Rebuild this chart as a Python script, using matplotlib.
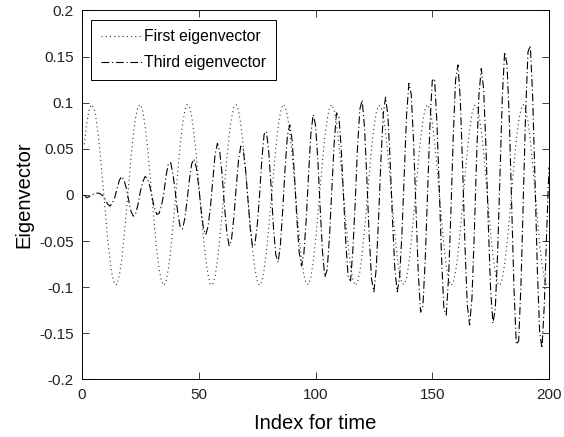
import numpy as np
import matplotlib
matplotlib.use('Agg')
from matplotlib import pyplot as plt
from matplotlib.ticker import FixedLocator, FuncFormatter

plt.rcParams['font.family'] = ['Liberation Sans', 'DejaVu Sans']

# indice de tiempo (1..200)
indice = np.arange(1, 201)

# primer vector propio
primer = [
    0.055, 0.077, 0.092, 0.098, 0.095, 0.083, 0.064, 0.039, 0.010, -0.020,
    -0.048, -0.071, -0.088, -0.097, -0.097, -0.087, -0.070, -0.046, -0.018, 0.012,
    0.041, 0.066, 0.085, 0.096, 0.098, 0.091, 0.075, 0.053, 0.026, -0.004,
    -0.033, -0.060, -0.080, -0.093, -0.098, -0.093, -0.080, -0.059, -0.033, -0.004,
    0.026, 0.053, 0.075, 0.091, 0.098, 0.096, 0.085, 0.066, 0.041, 0.012,
    -0.018, -0.046, -0.070, -0.087, -0.097, -0.097, -0.088, -0.071, -0.048, -0.020,
    0.010, 0.039, 0.064, 0.083, 0.095, 0.098, 0.092, 0.077, 0.055, 0.028,
    -0.002, -0.031, -0.058, -0.079, -0.093, -0.098, -0.094, -0.081, -0.061, -0.035,
    -0.006, 0.024, 0.051, 0.074, 0.090, 0.098, 0.096, 0.086, 0.067, 0.043,
    0.014, -0.016, -0.044, -0.069, -0.087, -0.096, -0.097, -0.089, -0.073, -0.050,
    -0.022, 0.008, 0.037, 0.063, 0.082, 0.095, 0.098, 0.092, 0.078, 0.056,
    0.030, 0.000, -0.029, -0.056, -0.078, -0.092, -0.098, -0.095, -0.083, -0.063,
    -0.037, -0.008, 0.022, 0.050, 0.073, 0.089, 0.097, 0.096, 0.087, 0.069,
    0.044, 0.016, -0.014, -0.043, -0.067, -0.086, -0.096, -0.097, -0.090, -0.074,
    -0.051, -0.024, 0.006, 0.035, 0.061, 0.081, 0.094, 0.098, 0.093, 0.079,
    0.058, 0.031, 0.002, -0.028, -0.055, -0.077, -0.092, -0.098, -0.095, -0.083,
    -0.064, -0.039, -0.010, 0.020, 0.048, 0.071, 0.088, 0.097, 0.097, 0.087,
    0.070, 0.046, 0.018, -0.012, -0.041, -0.066, -0.085, -0.096, -0.098, -0.091,
    -0.075, -0.053, -0.026, 0.004, 0.033, 0.060, 0.080, 0.093, 0.098, 0.093,
    0.080, 0.059, 0.033, 0.004, -0.026, -0.053, -0.075, -0.091, -0.098, -0.096,
]

# tercer vector propio
tercero = [
    0.000, -0.003, -0.002, 0.000, 0.001, 0.002, 0.002, 0.001, -0.001, -0.005,
    -0.010, -0.012, -0.009, -0.003, 0.007, 0.016, 0.020, 0.016, 0.007, -0.006,
    -0.018, -0.023, -0.020, -0.010, 0.004, 0.014, 0.020, 0.018, 0.010, -0.002,
    -0.014, -0.021, -0.020, -0.012, 0.001, 0.021, 0.034, 0.035, 0.022, 0.002,
    -0.019, -0.034, -0.037, -0.026, -0.006, 0.017, 0.034, 0.039, 0.029, 0.009,
    -0.016, -0.036, -0.043, -0.034, -0.013, 0.016, 0.044, 0.056, 0.047, 0.022,
    -0.012, -0.040, -0.055, -0.049, -0.025, 0.007, 0.037, 0.053, 0.050, 0.029,
    -0.003, -0.035, -0.056, -0.054, -0.034, -0.002, 0.038, 0.066, 0.069, 0.046,
    0.008, -0.035, -0.065, -0.073, -0.053, -0.015, 0.030, 0.065, 0.076, 0.059,
    0.021, -0.025, -0.062, -0.077, -0.064, -0.028, 0.021, 0.066, 0.087, 0.076,
    0.038, -0.014, -0.062, -0.089, -0.081, -0.045, 0.007, 0.057, 0.089, 0.085,
    0.051, 0.000, -0.053, -0.089, -0.093, -0.060, -0.008, 0.052, 0.093, 0.103,
    0.073, 0.017, -0.045, -0.091, -0.105, -0.080, -0.026, 0.037, 0.087, 0.106,
    0.086, 0.035, -0.029, -0.081, -0.105, -0.090, -0.043, 0.023, 0.087, 0.121,
    0.109, 0.058, -0.014, -0.084, -0.127, -0.120, -0.070, 0.003, 0.075, 0.124,
    0.126, 0.078, 0.007, -0.069, -0.124, -0.130, -0.089, -0.018, 0.064, 0.125,
    0.141, 0.104, 0.031, -0.054, -0.119, -0.141, -0.112, -0.042, 0.041, 0.109,
    0.137, 0.115, 0.052, -0.031, -0.103, -0.139, -0.123, -0.063, 0.022, 0.106,
    0.155, 0.142, 0.082, -0.009, -0.101, -0.162, -0.158, -0.097, -0.004, 0.090,
    0.155, 0.162, 0.107, 0.017, -0.080, -0.149, -0.166, -0.119, -0.040, 0.030,
]

xticks = [0, 50, 100, 150, 200]
yticks = [-0.2, -0.15, -0.1, -0.05, 0, 0.05, 0.1, 0.15, 0.2]

fig = plt.figure(figsize=(5.64, 4.37), dpi=100)
ax = fig.add_axes([0.1454, 0.1316, 0.828, 0.8444])

ax.plot(indice, primer, color='#333333', linestyle=(0, (1, 2.8)), linewidth=0.8,
        label='First eigenvector')
ax.plot(indice, tercero, color='k', linestyle=(0, (7, 2.5, 1, 2.5)), linewidth=0.8,
        label='Third eigenvector')

ax.set_xlim(0, 200)
ax.set_ylim(-0.2, 0.2)
ax.xaxis.set_major_locator(FixedLocator(xticks))
ax.yaxis.set_major_locator(FixedLocator(yticks))
ax.yaxis.set_major_formatter(FuncFormatter(lambda v, p: '%g' % round(v, 2)))
ax.tick_params(direction='in', top=True, right=True, length=5, width=0.6,
               labelsize=11, pad=6, colors='#222222')
for s in ax.spines.values():
    s.set_linewidth(0.7)

ax.set_xlabel('Index for time', fontsize=14.5, labelpad=9)
ax.set_ylabel('Eigenvector', fontsize=14.5, labelpad=4)

leg = ax.legend(loc='upper left', fontsize=11.3, frameon=True, fancybox=False,
                edgecolor='k', framealpha=1, handlelength=2.6,
                handletextpad=0.15, borderpad=0.6, labelspacing=0.7,
                borderaxespad=0.6)
leg.get_frame().set_linewidth(0.7)

fig.savefig('out.png', dpi=100)
